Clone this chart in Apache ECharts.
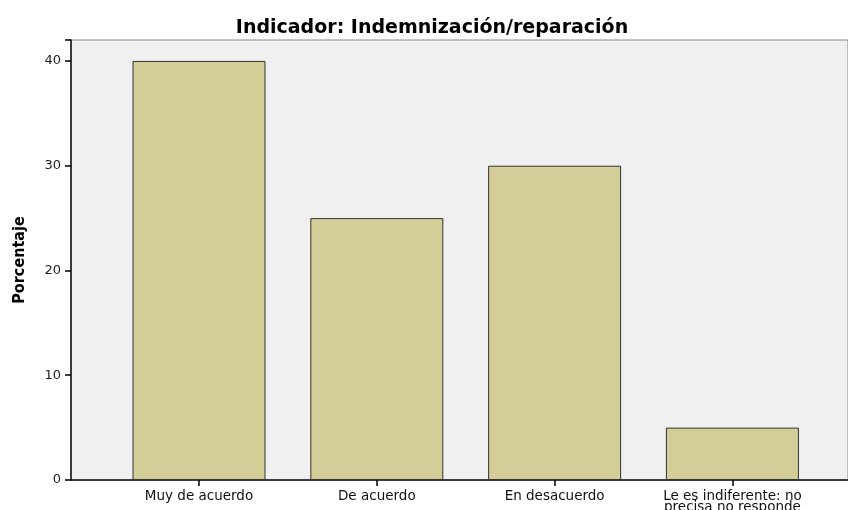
<!DOCTYPE html>
<html>
<head>
<meta charset="utf-8">
<script src="https://cdn.jsdelivr.net/npm/echarts@6/dist/echarts.min.js"></script>
<style>
  html, body { margin: 0; padding: 0; background: #fff; }
  #chart { width: 848px; height: 510px; }
</style>
</head>
<body>
<div id="chart"></div>
<script>
// datos del gráfico
const categorias = ['Muy de acuerdo', 'De acuerdo', 'En desacuerdo', 'Le es indiferente: no\nprecisa no responde'];
const porcentajes = [40, 25, 30, 5];
const posiciones = [0, 1, 2, 3];
const ticksY = [0, 10, 20, 30, 40];

const chart = echarts.init(document.getElementById('chart'));

const option = {
    animation: false,
    title: {
        text: 'Indicador: Indemnización/reparación',
        left: 427,
        textAlign: 'center',
        top: 14,
        textStyle: {
            fontFamily: 'DejaVu Sans',
            fontSize: 19,
            fontWeight: 'bold',
            color: '#000'
        }
    },
    grid: {
        left: 71,
        right: 0,
        top: 40,
        bottom: 30,
        outerBoundsMode: 'none',
        containLabel: false,
        show: true,
        backgroundColor: '#f0f0f0',
        borderColor: '#888',
        borderWidth: 1
    },
    xAxis: {
        type: 'value',
        min: -0.72,
        max: 3.65,
        splitLine: { show: false },
        axisLine: { show: true, onZero: false, lineStyle: { color: '#111', width: 1.5 } },
        axisTick: {
            show: true,
            customValues: posiciones,
            length: 6,
            lineStyle: { color: '#000', width: 1.5 }
        },
        axisLabel: {
            customValues: posiciones,
            formatter: v => categorias[Math.round(v)],
            fontFamily: 'DejaVu Sans',
            fontSize: 13.5,
            lineHeight: 11,
            color: '#111',
            margin: 11
        }
    },
    yAxis: {
        type: 'value',
        min: 0,
        max: 42,
        interval: 10,
        name: 'Porcentaje',
        nameLocation: 'middle',
        nameGap: 43,
        nameTextStyle: {
            fontFamily: '"DejaVu Sans Condensed", "Liberation Sans", sans-serif',
            fontSize: 16,
            fontWeight: 'bold',
            color: '#000'
        },
        splitLine: { show: false },
        axisLine: { show: true, onZero: false, lineStyle: { color: '#111', width: 1.5 } },
        axisTick: { show: true, length: 6, lineStyle: { color: '#000', width: 1.5 } },
        axisLabel: {
            fontFamily: 'DejaVu Sans',
            fontSize: 13,
            color: '#222',
            margin: 10,
            formatter: v => (ticksY.includes(v) ? String(v) : '')
        }
    },
    series: [{
        type: 'bar',
        data: posiciones.map((p, i) => [p, porcentajes[i]]),
        barWidth: 133,
        itemStyle: {
            color: '#d3ce97',
            borderColor: '#333',
            borderWidth: 1
        }
    }]
};

chart.setOption(option);
window.addEventListener('resize', () => chart.resize());
</script>
</body>
</html>
